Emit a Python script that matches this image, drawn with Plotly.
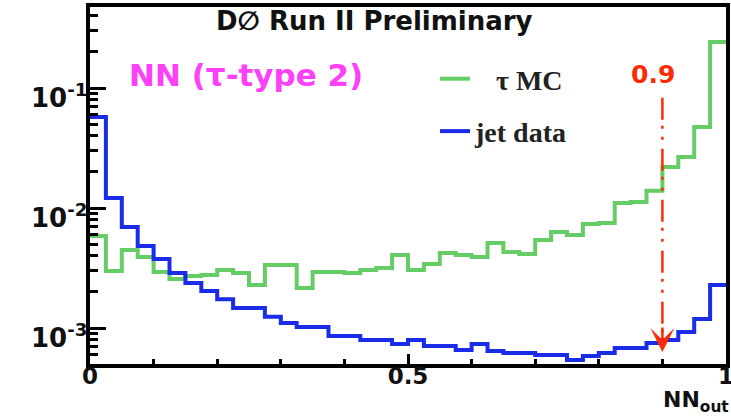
import numpy as np
import plotly.graph_objects as go

# NN output histogram: 40 equal bins on [0, 1]
bin_edges = np.linspace(0.0, 1.0, 41)

tau_mc = [5.84e-3, 2.99e-3, 4.47e-3, 3.91e-3, 2.93e-3, 2.56e-3, 2.71e-3, 2.77e-3,
          3.04e-3, 2.87e-3, 2.28e-3, 3.35e-3, 3.35e-3, 2.15e-3, 2.93e-3, 2.93e-3,
          2.87e-3, 3.04e-3, 3.16e-3, 4.06e-3, 3.04e-3, 3.42e-3, 4.22e-3, 4.06e-3,
          3.91e-3, 5.11e-3, 4.30e-3, 4.14e-3, 5.41e-3, 6.31e-3, 5.96e-3, 7.36e-3,
          7.50e-3, 1.10e-2, 1.12e-2, 1.39e-2, 2.20e-2, 2.66e-2, 4.73e-2, 0.242]

jet_data = [5.73e-2, 1.21e-2, 6.95e-3, 4.82e-3, 3.76e-3, 2.87e-3, 2.37e-3, 2.03e-3,
            1.74e-3, 1.47e-3, 1.47e-3, 1.24e-3, 1.10e-3, 1.02e-3, 1.02e-3, 8.58e-4,
            8.58e-4, 7.94e-4, 7.94e-4, 7.36e-4, 7.94e-4, 7.08e-4, 7.08e-4, 6.56e-4,
            7.36e-4, 6.43e-4, 6.19e-4, 6.19e-4, 5.96e-4, 5.96e-4, 5.41e-4, 5.84e-4,
            6.19e-4, 6.81e-4, 6.81e-4, 7.50e-4, 7.94e-4, 9.26e-4, 1.19e-3, 2.28e-3]

series_names = ["\u00a0\u00a0\u00a0\u03c4 MC", "jet data"]
series_colors = ["#66cc66", "#1a2ce8"]

# selection cut on the NN output and the extent of its marker line
CUT = 0.9
cut_line_top = 0.083
cut_arrow_tip = 6.3e-4

y_major = [1e-3, 1e-2, 1e-1]
y_major_text = ["<b>10<sup>-3</sup></b>", "<b>10<sup>-2</sup></b>", "<b>10<sup>-1</sup></b>"]
y_minor = [m * 10.0 ** k for k in (-4, -3, -2, -1) for m in range(2, 10)]
x_major = [0, 0.5, 1]
x_major_text = ["<b>0</b>", "<b>0.5</b>", "<b>1</b>"]
x_minor = [0.1, 0.2, 0.3, 0.4, 0.6, 0.7, 0.8, 0.9]

W, H = 731, 417
ML, MR, MT, MB = 90, 5, 7, 53
PW, PH = W - ML - MR, H - MT - MB


def px_x(p):
    return (p - ML) / PW


def px_y(p):
    return 1 - (p - MT) / PH


fig = go.Figure()

for i, (name, vals, col) in enumerate(zip(series_names, [tau_mc, jet_data], series_colors)):
    fig.add_trace(go.Scatter(
        x=bin_edges, y=list(vals) + [vals[-1]],
        mode="lines", line=dict(shape="hv", color=col, width=4),
        name=name, legendgroup=f"g{i}",
    ))

fig.add_trace(go.Scatter(
    x=[CUT, CUT], y=[cut_line_top, cut_arrow_tip], mode="lines",
    line=dict(color="#ff2a00", width=2.5, dash="22px,6px,3px,8px,3px,9px"),
    showlegend=False, hoverinfo="skip",
))

annotations = [
    dict(text="<b>D\u2205 Run II Preliminary</b>", x=px_x(374), y=px_y(21),
         xref="paper", yref="paper", showarrow=False, xanchor="center", yanchor="middle",
         font=dict(family="DejaVu Sans", size=26, color="#111111")),
    dict(text="<b>NN (\u03c4-type 2)</b>", x=px_x(127), y=px_y(75),
         xref="paper", yref="paper", showarrow=False, xanchor="left", yanchor="middle",
         font=dict(family="DejaVu Sans", size=31, color="#ff40f8")),
    dict(text=f"<b>{CUT}</b>", x=CUT, y=px_y(74), xref="x", yref="paper",
         showarrow=False, xanchor="center", yanchor="middle", xshift=-9,
         font=dict(family="DejaVu Sans", size=25, color="#ff2a00")),
    dict(text="<b>NN<sub>out</sub></b>", x=px_x(731), y=px_y(401),
         xref="paper", yref="paper", showarrow=False, xanchor="right", yanchor="middle",
         font=dict(family="DejaVu Sans", size=22, color="#111111")),
    dict(text="", x=CUT, y=np.log10(cut_arrow_tip), xref="x", yref="y",
         showarrow=True, ax=0, ay=-26, arrowhead=3, arrowsize=1.6, arrowwidth=2.5,
         arrowcolor="#ff2a00"),
]

# decade labels of the log axis, set just left of the axis line
for val, txt in zip(y_major, y_major_text):
    annotations.append(dict(
        text=txt, x=px_x(89), y=np.log10(val), xref="paper", yref="y",
        showarrow=False, xanchor="right", yanchor="middle", yshift=-8,
        font=dict(family="DejaVu Sans", size=26, color="#111111"),
    ))

fig.update_layout(
    width=W, height=H,
    margin=dict(l=ML, r=MR, t=MT, b=MB, pad=0, autoexpand=False),
    paper_bgcolor="white", plot_bgcolor="white",
    annotations=annotations,
    showlegend=True,
    legend=dict(x=px_x(435), y=px_y(54), xanchor="left", yanchor="top",
                bgcolor="rgba(0,0,0,0)", borderwidth=0, traceorder="grouped",
                tracegroupgap=13, itemwidth=30,
                font=dict(family="Liberation Serif", size=28, color="#222222", weight="bold")),
    xaxis=dict(
        range=[0, 1], showgrid=False, zeroline=False, automargin=False,
        showline=True, linewidth=4, linecolor="black", mirror=True,
        tickmode="array", tickvals=x_major, ticktext=x_major_text,
        ticks="inside", ticklen=10, tickwidth=3, tickcolor="black",
        ticklabeloverflow="allow", ticklabelstandoff=-12,
        tickfont=dict(family="DejaVu Sans", size=23, color="#111111"),
        minor=dict(tickmode="array", tickvals=x_minor, ticks="inside",
                   ticklen=5, tickwidth=3, tickcolor="black"),
    ),
    yaxis=dict(
        type="log", range=[-3.3, -0.325], showgrid=False, zeroline=False, automargin=False,
        showline=True, linewidth=4, linecolor="black", mirror=True,
        tickmode="array", tickvals=y_major, showticklabels=False,
        ticks="inside", ticklen=16, tickwidth=3, tickcolor="black",
        minor=dict(tickmode="array", tickvals=y_minor, ticks="inside",
                   ticklen=8, tickwidth=2.5, tickcolor="black"),
    ),
)

fig.write_html("out.html")
